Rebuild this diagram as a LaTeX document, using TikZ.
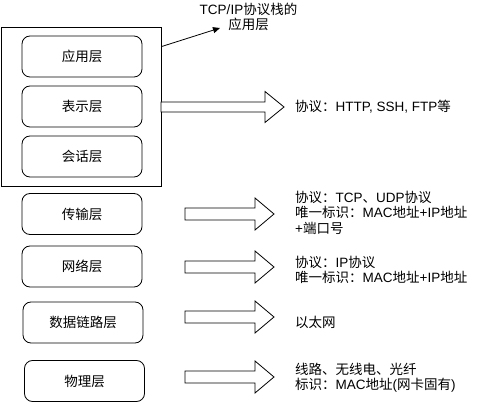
\documentclass[tikz,border=0pt]{standalone}
\usepackage{fontspec}
\setmainfont{Noto Sans CJK SC}
\newfontfamily\latfont{Liberation Sans}
\newcommand{\en}[1]{{\latfont #1}}
\usepackage{tikz}
\usetikzlibrary{positioning, arrows.meta}

\begin{document}
\begin{tikzpicture}[x=1pt, y=-1pt,
      layer/.style={draw, rounded corners=8pt, line width=0.8pt,
          minimum width=120pt, minimum height=41pt,
          font=\fontsize{13.5}{15.5}\selectfont, text centered},
      note/.style={anchor=west, align=left, inner sep=0pt,
          font=\fontsize{13.5}{15.5}\selectfont},
      fat/.style={draw, line width=0.8pt, fill=white},
    ]
    \useasboundingbox (0,0) rectangle (495,403);

    % ---- TCP/IP application block (outer box) ----
    \node[draw, line width=0.8pt, minimum width=160pt, minimum height=159pt,
        inner sep=0pt] (tcpip) at (81,106.5) {};
    \node[note, anchor=center, align=center] (applbl) at (248.5,17)
        {\en{TCP/IP}协议栈的\\应用层};
    \coordinate (apptip) at (220,28);
    \draw[line width=0.8pt, -{Triangle[length=7pt, width=6pt]}]
    ([yshift=-20pt]tcpip.north east) -- (apptip);

    % ---- Layer boxes (LEFT) ----
    \foreach \name/\x/\y/\lab in {
        app/82/56.5/应用层, pres/82/106.5/表示层, sess/82/156.5/会话层,
        trans/82/214/传输层, net/82/266.5/网络层,
        link/83/322.5/数据链路层, phys/84.5/381/物理层}{
        \node[layer] (\name) at (\x,\y) {\lab};
      }

    % ---- Block arrows (MIDDLE) ----
    % from x=161 to tip 284, head at 265
    \draw[fat] (161,102) -- (265,102) -- (265,91.5) -- (284,107)
    -- (265,122.5) -- (265,112) -- (161,112) -- cycle;
    % lower layers: x = 185 .. 274, head at 255
    \foreach \y in {214, 267, 317, 377}{
        \draw[fat] (185,\y-6) -- (255,\y-6) -- (255,\y-16) -- (274,\y)
        -- (255,\y+16) -- (255,\y+6) -- (185,\y+6) -- cycle;
      }

    % ---- Descriptions (RIGHT, x = 295) ----
    \node[note] (presnote)  at (295,107)   {协议：\en{HTTP, SSH, FTP}等};
    \node[note] (transnote) at (295,212.5) {协议：\en{TCP}、\en{UDP}协议\\唯一标识：\en{MAC}地址\en{+IP}地址\\\en{+}端口号};
    \node[note] (netnote)   at (295,270)   {协议：\en{IP}协议\\唯一标识：\en{MAC}地址\en{+IP}地址};
    \node[note] (linknote)  at (295,322)   {以太网};
    \node[note] (physnote)  at (295,377.5) {线路、无线电、光纤\\标识：\en{MAC}地址\en{(}网卡固有\en{)}};

  \end{tikzpicture}
\end{document}
